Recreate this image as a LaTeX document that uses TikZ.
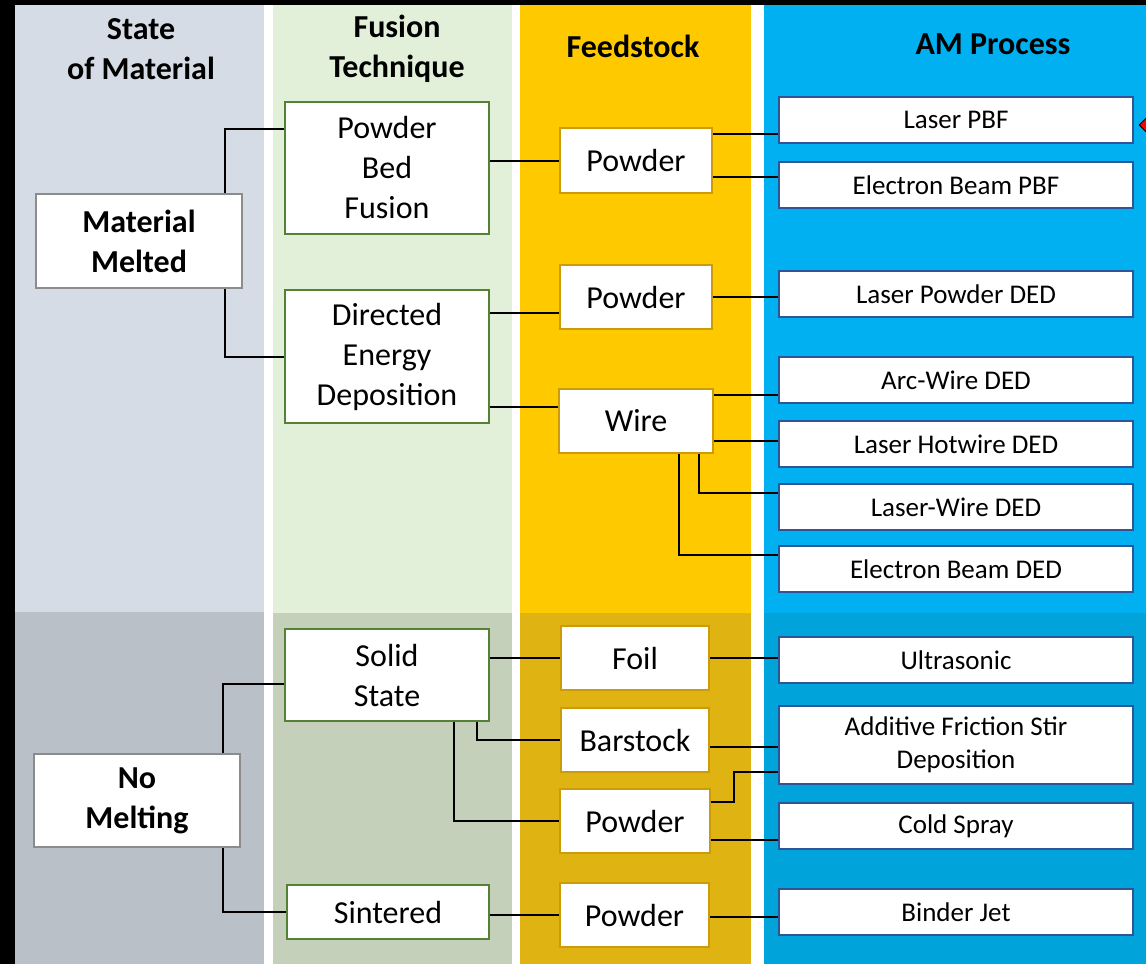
\documentclass[tikz,border=0pt]{standalone}
\usepackage{fontspec}
\setmainfont{Carlito}
\usetikzlibrary{shapes.geometric,calc}
\definecolor{cAt}{HTML}{D6DCE5}
\definecolor{cAb}{HTML}{B9C0C8}
\definecolor{cBt}{HTML}{E2F0D9}
\definecolor{cBb}{HTML}{C5D0BB}
\definecolor{cCt}{HTML}{FFC900}
\definecolor{cCb}{HTML}{DEB312}
\definecolor{cDt}{HTML}{00B0F0}
\definecolor{cDb}{HTML}{00A4DA}
\definecolor{bdA}{HTML}{8C8C8C}
\definecolor{bdB}{HTML}{548235}
\definecolor{bdC}{HTML}{CC9C08}
\definecolor{bdD}{HTML}{2F5597}
\tikzset{
  base/.style={draw, fill=white, line width=1.3pt, inner sep=0pt, align=center, text=black},
  boxA/.style={base, draw=bdA, font=\fontsize{32}{40}\selectfont\bfseries},
  boxB/.style={base, draw=bdB, font=\fontsize{32}{40}\selectfont},
  boxC/.style={base, draw=bdC, font=\fontsize{32}{40}\selectfont},
  boxD/.style={base, draw=bdD, minimum width=354pt, minimum height=46pt, font=\fontsize{27}{33}\selectfont},
  header/.style={align=center, font=\fontsize{32}{40}\selectfont\bfseries, text=black},
  conn/.style={draw=black, line width=2pt}
}
\begin{document}
\begin{tikzpicture}[x=1pt,y=-1pt]
\useasboundingbox (0,0) rectangle (1146,964);
\clip (0,0) rectangle (1146,964);
% background
\fill[black] (0,0) rectangle (1146,964);
\fill[white] (15,5) rectangle (1146,964);
\fill[cAt] (15,5) rectangle (264,612);
\fill[cAb] (15,612) rectangle (264,964);
\fill[cBt] (273,5) rectangle (512,613);
\fill[cBb] (273,613) rectangle (512,964);
\fill[cCt] (520,5) rectangle (751,613);
\fill[cCb] (520,613) rectangle (751,964);
\fill[cDt] (764,5) rectangle (1146,613);
\fill[cDb] (764,613) rectangle (1146,964);
% headers
\node[header] (h1) at (141,49) {State\\of Material};
\node[header] (h2) at (397,49) {Fusion\\Technique};
\node[header] (h3) at (633,46) {Feedstock};
\node[header] (h4) at (993,44) {AM Process};
% column 1
\node[boxA, minimum width=206pt, minimum height=94pt] (mm) at (139,241) {Material\\Melted};
\node[boxA, minimum width=206pt, minimum height=93pt] (nm) at (137,800.5) {No\\Melting};
% column 2
\node[boxB, minimum width=204pt, minimum height=132pt] (pbf) at (387,168) {Powder\\Bed\\Fusion};
\node[boxB, minimum width=204pt, minimum height=133pt] (ded) at (387,356.5) {Directed\\Energy\\Deposition};
\node[boxB, minimum width=204pt, minimum height=92pt] (ss) at (387,675) {Solid\\State};
\node[boxB, minimum width=202pt, minimum height=54pt] (sin) at (388,912) {Sintered};
% column 3
\node[boxC, minimum width=152pt, minimum height=65pt] (pw1) at (636,160.5) {Powder};
\node[boxC, minimum width=152pt, minimum height=64pt] (pw2) at (636,297) {Powder};
\node[boxC, minimum width=154pt, minimum height=64pt] (wire) at (636,421) {Wire};
\node[boxC, minimum width=148pt, minimum height=64pt] (foil) at (635,658) {Foil};
\node[boxC, minimum width=148pt, minimum height=64pt] (bar) at (635,740) {Barstock};
\node[boxC, minimum width=150pt, minimum height=64pt] (pw3) at (635,821) {Powder};
\node[boxC, minimum width=149pt, minimum height=64pt] (pw4) at (634.5,915) {Powder};
% column 4
\node[boxD] (lpbf) at (956,120) {Laser PBF};
\node[boxD] (ebpbf) at (956,185) {Electron Beam PBF};
\node[boxD] (lpded) at (956,294) {Laser Powder DED};
\node[boxD] (awded) at (956,380) {Arc-Wire DED};
\node[boxD] (lhded) at (956,444) {Laser Hotwire DED};
\node[boxD] (lwded) at (956,507) {Laser-Wire DED};
\node[boxD] (ebded) at (956,569) {Electron Beam DED};
\node[boxD] (us) at (956,660) {Ultrasonic};
\node[boxD, minimum height=78pt] (afsd) at (956,745) {Additive Friction Stir\\Deposition};
\node[boxD] (cs) at (956,826) {Cold Spray};
\node[boxD] (bj) at (956,912) {Binder Jet};
% red marker
\node[diamond, draw=black, fill=red, line width=1pt, minimum width=16pt, minimum height=16pt, inner sep=0pt] (mark) at (1147,125) {};
% connectors
\draw[conn] ([xshift=-18pt]mm.north east) |- ([yshift=39pt]pbf.west);
\draw[conn] ([xshift=-18pt]mm.south east) |- (ded.west);
\draw[conn] (pw1.west) -- (pw1.west -| pbf.east);
\coordinate (a1) at ([yshift=-14pt]lpbf.west);
\draw[conn] (a1) -- (a1 -| pw1.east);
\coordinate (a2) at ([yshift=8pt]ebpbf.west);
\draw[conn] (a2) -- (a2 -| pw1.east);
\coordinate (a3) at ([yshift=-16pt]pw2.west);
\draw[conn] (a3) -- (a3 -| ded.east);
\draw[conn] (pw2.east) -- (pw2.east -| lpded.west);
\coordinate (a4) at ([yshift=14pt]wire.west);
\draw[conn] (a4) -- (a4 -| ded.east);
\coordinate (a5) at ([yshift=-15pt]awded.west);
\draw[conn] (a5) -- (a5 -| wire.east);
\coordinate (a6) at ([yshift=3pt]lhded.west);
\draw[conn] (a6) -- (a6 -| wire.east);
\draw[conn] ([xshift=-15pt]wire.south east) |- ([yshift=14pt]lwded.west);
\draw[conn] ([xshift=-35pt]wire.south east) |- ([yshift=14pt]ebded.west);
\draw[conn] ([xshift=-18pt]nm.north east) |- ([yshift=-9pt]ss.west);
\draw[conn] ([xshift=-18pt]nm.south east) |- (sin.west);
\draw[conn] (foil.west) -- (foil.west -| ss.east);
\draw[conn] ([xshift=-13pt]ss.south east) |- (bar.west);
\draw[conn] ([xshift=-36pt]ss.south east) |- (pw3.west);
\draw[conn] (foil.east) -- (foil.east -| us.west);
\coordinate (a7) at ([yshift=-2pt]afsd.west);
\draw[conn] (a7) -- (a7 -| bar.east);
\draw[conn] ([yshift=19pt]pw3.east) -- ++(23,0) |- ([yshift=-27pt]afsd.west);
\coordinate (a8) at ([yshift=-14pt]cs.west);
\draw[conn] (a8) -- (a8 -| pw3.east);
\draw[conn] (pw4.west) -- (pw4.west -| sin.east);
\coordinate (a9) at ([yshift=-5pt]bj.west);
\draw[conn] (a9) -- (a9 -| pw4.east);
\end{tikzpicture}
\end{document}
